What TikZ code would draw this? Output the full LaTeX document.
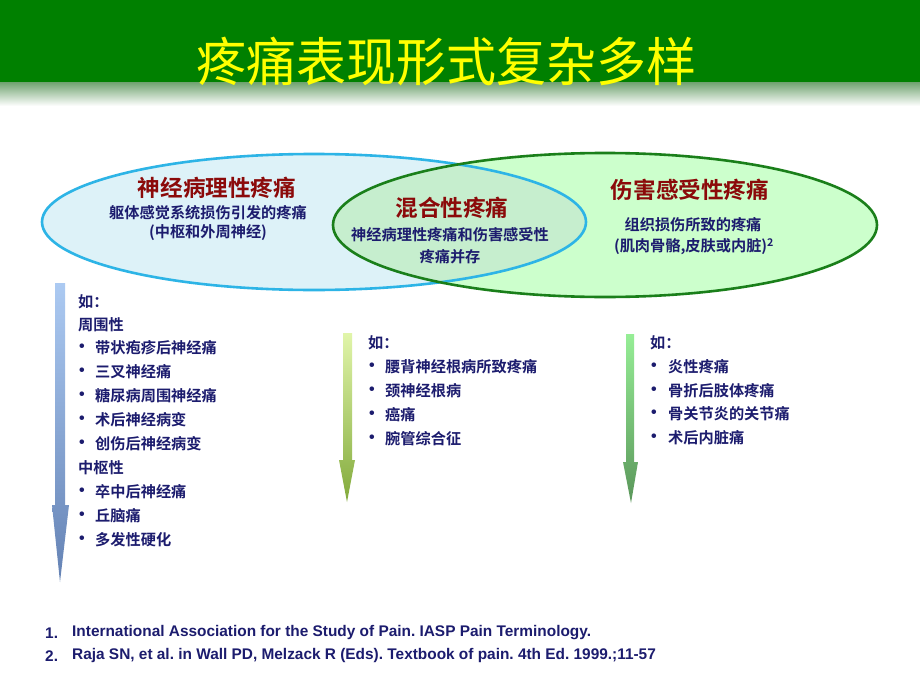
\documentclass[tikz,border=0pt]{standalone}
\usepackage{fontspec}
\setmainfont{Noto Sans CJK SC}[BoldFont={Noto Sans CJK SC Bold}]
\newfontfamily\reffont{Liberation Sans}
\frenchspacing
\definecolor{hdrgreen}{HTML}{008000}
\definecolor{ttlyellow}{HTML}{FFFF00}
\definecolor{dred}{HTML}{8B0A0A}
\definecolor{navy}{HTML}{1C1C6E}
\definecolor{lbfill}{HTML}{DDF2F8}
\definecolor{lbline}{HTML}{2DB4E6}
\definecolor{rgfill}{HTML}{CCFFCC}
\definecolor{rgline}{HTML}{1A7F1A}
\definecolor{mixfill}{HTML}{C6EECE}
\tikzset{
  heading/.style={text=dred, font=\bfseries\fontsize{22.6}{25}\selectfont, inner sep=0pt},
  desc/.style={text=navy, font=\bfseries\fontsize{15.2}{17}\selectfont, inner sep=0pt, align=center},
  item/.style={text=navy, font=\bfseries\fontsize{15.2}{17}\selectfont, inner sep=0pt, anchor=west},
  bul/.style={text=navy, font=\reffont\bfseries\fontsize{16}{17}\selectfont, inner sep=0pt},
  refs/.style={text=navy, font=\reffont\bfseries\fontsize{15.4}{17}\selectfont, inner sep=0pt, anchor=west}
}
\begin{document}
\begin{tikzpicture}[x=1pt,y=-1pt]
\useasboundingbox (0,0) rectangle (920,690);
\fill[white] (0,0) rectangle (920,690);
% header
\fill[hdrgreen] (0,0) rectangle (920,83);
\shade[top color=hdrgreen!55!gray!70, bottom color=white] (0,83) rectangle (920,106);
\node[text=ttlyellow, font=\fontsize{50}{54}\selectfont, inner sep=0pt, yscale=1.05] (title) at (446,62) {疼痛表现形式复杂多样};
% ellipses
\fill[lbfill] (314,222) ellipse [x radius=272, y radius=68];
\fill[rgfill] (605,225) ellipse [x radius=272, y radius=72];
\begin{scope}
  \clip (314,222) ellipse [x radius=272, y radius=68];
  \fill[mixfill] (605,225) ellipse [x radius=272, y radius=72];
\end{scope}
\draw[lbline, line width=2.6pt] (314,222) ellipse [x radius=272, y radius=68];
\draw[rgline, line width=2.6pt] (605,225) ellipse [x radius=272, y radius=72];
% ellipse texts
\node[heading] (h1) at (217,188) {神经病理性疼痛};
\node[desc] (d1a) at (208,213) {躯体感觉系统损伤引发的疼痛};
\node[desc] (d1b) at (208,233) {(中枢和外周神经)};
\node[heading] (h2) at (452,208) {混合性疼痛};
\node[desc] (d2a) at (450,235) {神经病理性疼痛和伤害感受性};
\node[desc] (d2b) at (450,257) {疼痛并存};
\node[heading] (h3) at (690,190) {伤害感受性疼痛};
\node[desc] (d3a) at (693,225) {组织损伤所致的疼痛};
\node[desc] (d3b) at (694,247) {(肌肉骨骼,皮肤或内脏)\textsuperscript{2}};
% gradient arrows
\shade[top color={rgb,255:red,172;green,202;blue,242}, bottom color={rgb,255:red,100;green,130;blue,180}]
  (55,283) -- (65,283) -- (65,505) -- (69,505) -- (60,582) -- (52,505) -- (55,505) -- cycle;
\shade[top color={rgb,255:red,225;green,245;blue,170}, bottom color={rgb,255:red,130;green,170;blue,60}]
  (343,333) -- (352,333) -- (352,460) -- (355,460) -- (347,502) -- (339,460) -- (343,460) -- cycle;
\shade[top color={rgb,255:red,150;green,238;blue,150}, bottom color={rgb,255:red,90;green,150;blue,90}]
  (626,334) -- (634,334) -- (634,462) -- (638,462) -- (631,503) -- (623,462) -- (626,462) -- cycle;
% left list
\node[item] (l0) at (78,302) {如：};
\node[item] (l1) at (78,325) {周围性};
\foreach \t/\y [count=\i] in {带状疱疹后神经痛/348, 三叉神经痛/372, 糖尿病周围神经痛/396, 术后神经病变/420, 创伤后神经病变/444}{
  \node[bul] (lb\i) at (82,\y) {•};
  \node[item] (lt\i) at (95,\y) {\t};
}
\node[item] (l2) at (78,468) {中枢性};
\foreach \t/\y [count=\i] in {卒中后神经痛/492, 丘脑痛/516, 多发性硬化/540}{
  \node[bul] (lc\i) at (82,\y) {•};
  \node[item] (lu\i) at (95,\y) {\t};
}
% middle list
\node[item] (m0) at (368,343) {如：};
\foreach \t/\y [count=\i] in {腰背神经根病所致疼痛/367, 颈神经根病/391, 癌痛/415, 腕管综合征/439}{
  \node[bul] (mb\i) at (372,\y) {•};
  \node[item] (mt\i) at (385,\y) {\t};
}
% right list
\node[item] (r0) at (650,343) {如：};
\foreach \t/\y [count=\i] in {炎性疼痛/367, 骨折后肢体疼痛/391, 骨关节炎的关节痛/414, 术后内脏痛/438}{
  \node[bul] (rb\i) at (654,\y) {•};
  \node[item] (rt\i) at (668,\y) {\t};
}
% references
\node[refs] (n1) at (45,633) {1.};
\node[refs] (t1) at (72,633) {International Association for the Study of Pain. IASP Pain Terminology.};
\node[refs] (n2) at (45,656) {2.};
\node[refs] (t2) at (72,656) {Raja SN, et al. in Wall PD, Melzack R (Eds). Textbook of pain. 4th Ed. 1999.;11-57};
\end{tikzpicture}
\end{document}
